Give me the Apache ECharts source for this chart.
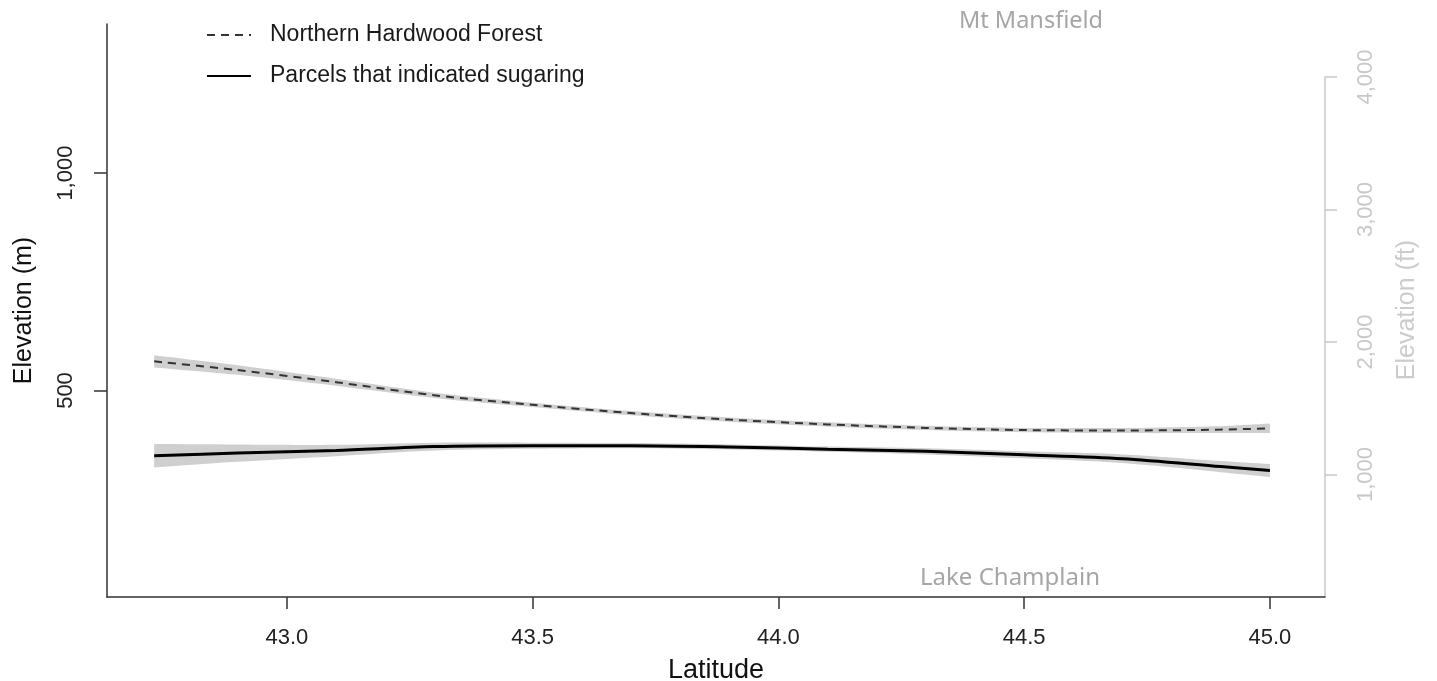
<!DOCTYPE html>
<html>
<head>
<meta charset="utf-8">
<script src="https://cdn.jsdelivr.net/npm/echarts@6/dist/echarts.min.js"></script>
<style>
html,body{margin:0;padding:0;background:#fff;}
#chart{width:1437px;height:681px;}
</style>
</head>
<body>
<div id="chart"></div>
<script>
// ---- data ----
const latitude     = [42.73, 42.9, 43.1, 43.3, 43.5, 43.7, 43.9, 44.1, 44.3, 44.5, 44.7, 44.9, 45.0];
const forestMean   = [567, 547, 519, 489, 467, 448, 433, 422, 414, 409, 408, 410, 413];
const forestHalfCI = [14, 11, 8, 6, 5, 5, 5, 5, 5, 5, 6, 8, 11];
const sugarMean    = [350, 356, 362, 371, 373, 373, 370, 365, 360, 352, 343, 325, 316];
const sugarHalfCI  = [27, 20, 13, 9, 7, 6, 6, 6, 7, 8, 10, 13, 15];
const xTicks  = [43.0, 43.5, 44.0, 44.5, 45.0];
const mTicks  = [500, 1000];
const ftTicks = [1000, 2000, 3000, 4000];
const seriesNames = ['Northern Hardwood Forest', 'Parcels that indicated sugaring'];
const annotations = ['Mt Mansfield', 'Lake Champlain'];

const FONT = 'Liberation Sans, Arial, sans-serif';
const SMOOTH = 0.3;
const comma = v => String(v).replace(/\B(?=(\d{3})+(?!\d))/g, ',');

function pairs(ys) { return latitude.map((x, i) => [x, ys[i]]); }

// bezier path through pixel points (similar to the line series smoothing)
function smoothPath(pts, moveFirst) {
  const n = pts.length;
  const d = (a, b) => Math.hypot(a[0] - b[0], a[1] - b[1]);
  const cpOut = [], cpIn = [];
  for (let i = 0; i < n; i++) {
    const prev = pts[Math.max(i - 1, 0)], cur = pts[i], next = pts[Math.min(i + 1, n - 1)];
    const vx = (next[0] - prev[0]) * SMOOTH, vy = (next[1] - prev[1]) * SMOOTH;
    const lp = d(cur, prev), ln = d(next, cur);
    const r = (lp + ln) > 0 ? ln / (lp + ln) : 0.5;
    cpOut[i] = [cur[0] + vx * r, cur[1] + vy * r];
    cpIn[i] = [cur[0] - vx * (1 - r), cur[1] - vy * (1 - r)];
  }
  let s = (moveFirst ? 'M' : 'L') + pts[0][0] + ' ' + pts[0][1];
  for (let i = 0; i < n - 1; i++) {
    s += ' C' + cpOut[i][0] + ' ' + cpOut[i][1] + ' ' + cpIn[i + 1][0] + ' ' + cpIn[i + 1][1] + ' ' + pts[i + 1][0] + ' ' + pts[i + 1][1];
  }
  return s;
}

function bandSeries(mean, half) {
  return {
    type: 'custom', xAxisIndex: 0, yAxisIndex: 0, data: [0], z: 1, silent: true,
    renderItem: function (params, api) {
      const up = latitude.map((x, i) => api.coord([x, mean[i] + half[i]]));
      const lo = latitude.map((x, i) => api.coord([x, mean[i] - half[i]])).reverse();
      const pathData = smoothPath(up, true) + ' ' + smoothPath(lo, false) + ' Z';
      return {
        type: 'path',
        shape: { pathData: pathData },
        style: { fill: '#cfcfcf', stroke: null }
      };
    }
  };
}

const chart = echarts.init(document.getElementById('chart'), null, { renderer: 'canvas' });
chart.setOption({
  backgroundColor: '#ffffff',
  animation: false,
  textStyle: { fontFamily: FONT },
  grid: [
    { left: 107, top: 24, width: 1218, height: 573, outerBoundsMode: 'none', containLabel: false },
    { left: 107, top: 77, width: 1218, height: 520, outerBoundsMode: 'none', containLabel: false }
  ],
  legend: {
    data: seriesNames,
    orient: 'vertical',
    left: 201, top: 18,
    itemWidth: 44, itemHeight: 14, itemGap: 17,
    itemStyle: { opacity: 0 },
    textStyle: { fontSize: 23, color: '#1a1a1a', fontFamily: FONT, padding: [0, 0, 0, 14], lineHeight: 24 }
  },
  xAxis: [
    { gridIndex: 0, type: 'value', min: 42.634, max: 45.112,
      axisLine: { onZero: false, lineStyle: { color: '#333', width: 1.5 } },
      axisTick: { customValues: xTicks, length: 12, lineStyle: { color: '#333', width: 1.5 } },
      axisLabel: { customValues: xTicks, formatter: v => v.toFixed(1), fontSize: 22, color: '#222', margin: 30 },
      splitLine: { show: false },
      name: 'Latitude', nameLocation: 'middle', nameGap: 60,
      nameTextStyle: { fontSize: 27, color: '#111' } },
    { gridIndex: 1, type: 'value', min: 42.634, max: 45.112, show: false }
  ],
  yAxis: [
    { gridIndex: 0, type: 'value', min: 25, max: 1343,
      axisLine: { show: true, onZero: false, lineStyle: { color: '#333', width: 1.5 } },
      axisTick: { show: true, customValues: mTicks, length: 13, lineStyle: { color: '#333', width: 1.5 } },
      axisLabel: { customValues: mTicks, rotate: 90, formatter: comma, fontSize: 22, color: '#222', margin: 30 },
      splitLine: { show: false },
      name: 'Elevation (m)', nameLocation: 'middle', nameRotate: 90, nameGap: 70,
      nameTextStyle: { fontSize: 25, color: '#111' } },
    { gridIndex: 1, type: 'value', position: 'right', min: 75, max: 4000,
      axisLine: { show: true, onZero: false, lineStyle: { color: '#c8c8c8', width: 1.5 } },
      axisTick: { show: true, customValues: ftTicks, length: 12, lineStyle: { color: '#c8c8c8', width: 1.5 } },
      axisLabel: { customValues: ftTicks, rotate: 90, formatter: comma, fontSize: 22, color: '#c8c8c8', margin: 30 },
      splitLine: { show: false } }
  ],
  graphic: [
    { type: 'text', x: 1407, y: 310, rotation: Math.PI / 2,
      style: { text: 'Elevation (ft)', font: '25px ' + FONT, fill: '#cccccc', align: 'center', verticalAlign: 'middle' } },
    { type: 'text', x: 1031, y: 21,
      style: { text: annotations[0], font: '23.5px "Noto Sans", sans-serif', fill: '#a6a6a6', align: 'center', verticalAlign: 'middle' } },
    { type: 'text', x: 1010, y: 578,
      style: { text: annotations[1], font: '24px "Noto Sans", sans-serif', fill: '#a6a6a6', align: 'center', verticalAlign: 'middle' } }
  ],
  series: [
    bandSeries(forestMean, forestHalfCI),
    bandSeries(sugarMean, sugarHalfCI),
    { name: seriesNames[0], type: 'line', data: pairs(forestMean), smooth: SMOOTH, symbol: 'none', z: 3,
      xAxisIndex: 0, yAxisIndex: 0,
      lineStyle: { color: '#333', width: 2, type: [8, 6] }, itemStyle: { color: '#333' } },
    { name: seriesNames[1], type: 'line', data: pairs(sugarMean), smooth: SMOOTH, symbol: 'none', z: 3,
      xAxisIndex: 0, yAxisIndex: 0,
      lineStyle: { color: '#000', width: 3 }, itemStyle: { color: '#000' } }
  ]
});
</script>
</body>
</html>
